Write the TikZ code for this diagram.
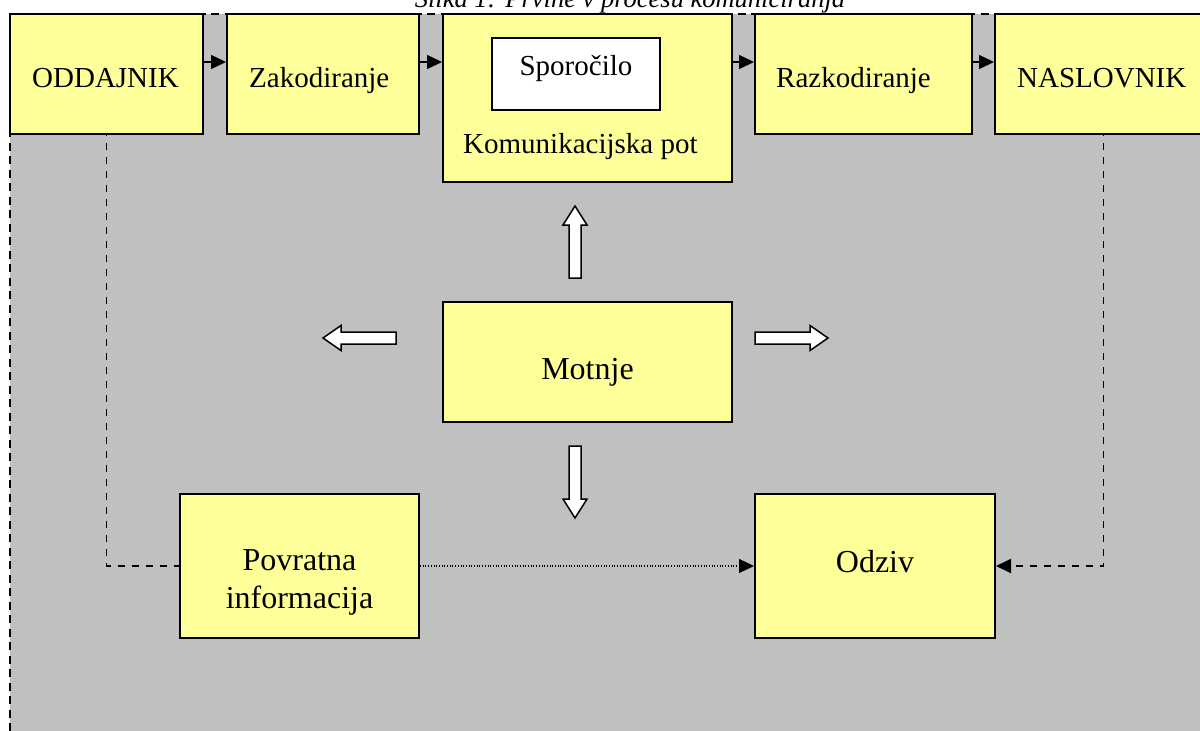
\documentclass[tikz,border=0pt]{standalone}
\usepackage{fontspec}
\setmainfont{Liberation Serif}
\usetikzlibrary{arrows.meta}
\definecolor{boxyellow}{HTML}{FFFF99}
\definecolor{bggray}{HTML}{C0C0C0}
\begin{document}
\begin{tikzpicture}[x=1pt,y=-1pt,
  box/.style={draw=black, line width=2pt, fill=boxyellow, inner sep=0pt, rectangle},
  toptext/.style={font=\fontsize{29}{34}\selectfont, inner sep=0pt},
  bigtext/.style={font=\fontsize{32}{38}\selectfont, inner sep=0pt},
  flow/.style={line width=1.5pt, -{Triangle[length=15pt,width=14pt]}},
  fb/.style={line width=1.8pt, dash pattern=on 7pt off 7pt},
  dots/.style={line width=1.2pt, dash pattern=on 1pt off 1.7pt},
  barrow/.style={draw=black, line width=1.5pt, fill=white, line join=miter},
]
\useasboundingbox (0,0) rectangle (1200,731);
\fill[white] (0,0) rectangle (1200,731);
\fill[bggray] (10,14) rectangle (1200,731);
\draw[line width=2.2pt, dash pattern=on 8pt off 5.5pt] (10,731) -- (10,14) -- (1200,14);
\node[font=\fontsize{26.5}{30}\selectfont\itshape, anchor=base, inner sep=0pt] (cap) at (630,7) {Slika 1: Prvine v procesu komuniciranja};

% top row boxes
\node[box, minimum width=193pt, minimum height=120pt] (odd) at (106.5,74) {};
\node[box, minimum width=192pt, minimum height=120pt] (zak) at (323,74) {};
\node[box, minimum width=289pt, minimum height=168pt] (kom) at (587.5,98) {};
\node[box, fill=white, minimum width=168pt, minimum height=72pt] (spo) at (576,74) {};
\node[box, minimum width=217pt, minimum height=120pt] (raz) at (863.5,74) {};
\node[box, minimum width=217pt, minimum height=120pt] (nas) at (1103.5,74) {};

\node[toptext, anchor=base west] (oddt) at (32,87) {ODDAJNIK};
\node[toptext, anchor=base west] (zakt) at (249,87) {Zakodiranje};
\node[toptext, anchor=base west] (komt) at (463,153) {Komunikacijska pot};
\node[toptext, anchor=base] (spot) at (576,75) {Sporočilo};
\node[toptext, anchor=base west] (razt) at (776,87) {Razkodiranje};
\node[toptext, anchor=base west] (nast) at (1017,87) {NASLOVNIK};

% middle and bottom boxes
\node[box, minimum width=289pt, minimum height=120pt] (mot) at (587.5,362) {};
\node[box, minimum width=239pt, minimum height=144pt] (pov) at (299.5,566) {};
\node[box, minimum width=240pt, minimum height=144pt] (odz) at (875,566) {};

\node[bigtext, anchor=base] (mott) at (587.5,379) {Motnje};
\node[bigtext, anchor=north, align=center] (povt) at (299.5,549.8) {Povratna\\informacija};
\node[bigtext, anchor=base] (odzt) at (875,572) {Odziv};

% block arrows around Motnje
\draw[barrow] (569,278) -- (569,225) -- (563,225) -- (575,206) -- (587,225) -- (581,225) -- (581,278) -- cycle;
\draw[barrow] (569,446) -- (569,499) -- (563,499) -- (575,518) -- (587,499) -- (581,499) -- (581,446) -- cycle;
\draw[barrow] (396,332) -- (341,332) -- (341,325.5) -- (323,338) -- (341,350.5) -- (341,344) -- (396,344) -- cycle;
\draw[barrow] (755,332) -- (810,332) -- (810,325.5) -- (828,338) -- (810,350.5) -- (810,344) -- (755,344) -- cycle;

% flow connectors
\coordinate (rowy) at (0,62);
\draw[flow] (odd.east |- rowy) -- (zak.west |- rowy);
\draw[flow] (zak.east |- rowy) -- (kom.west |- rowy);
\draw[flow] (kom.east |- rowy) -- (raz.west |- rowy);
\draw[flow] (raz.east |- rowy) -- (nas.west |- rowy);

% feedback connectors
\draw[fb, dash phase=-8pt] (odd.south) |- (pov.west);
\draw[fb, dash phase=-8pt, -{Triangle[length=15pt,width=14pt]}] (nas.south) |- (odz.east);
\draw[dots, -{Triangle[length=15pt,width=14pt]}] (pov.east) -- (odz.west);
\end{tikzpicture}
\end{document}
